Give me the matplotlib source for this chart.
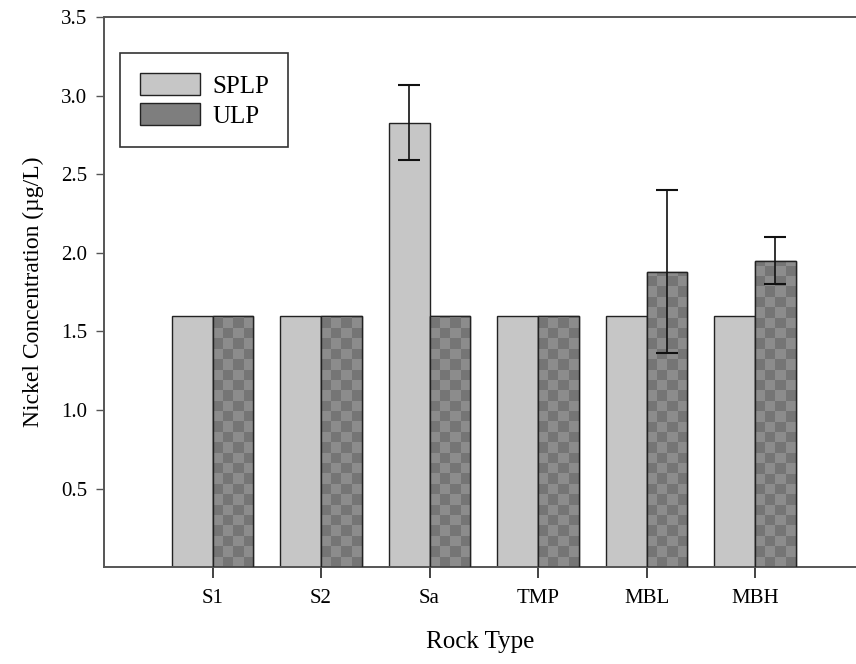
import numpy as np
import matplotlib.pyplot as plt
from matplotlib.legend_handler import HandlerPatch
from matplotlib.patches import Rectangle

rock_types = ['S1', 'S2', 'Sa', 'TMP', 'MBL', 'MBH']
splp = [1.6, 1.6, 2.83, 1.6, 1.6, 1.6]
splp_err = [0, 0, 0.24, 0, 0, 0]
ulp = [1.6, 1.6, 1.6, 1.6, 1.88, 1.95]
ulp_err = [0, 0, 0, 0, 0.52, 0.15]

plt.rcParams['font.family'] = ['Liberation Serif', 'DejaVu Serif']

fig = plt.figure(figsize=(8.56, 6.64), dpi=100)
ax = fig.add_axes([0.1215, 0.146, 0.8785, 0.828])

x = np.arange(len(rock_types))
w = 0.375
edge = '#222222'

b1 = ax.bar(x - w / 2, splp, w, color='#c6c6c6', edgecolor=edge, linewidth=1.0,
            label='SPLP', zorder=2)
b2 = ax.bar(x + w / 2, ulp, w, color='#7e7e7e', edgecolor=edge, linewidth=1.0,
            label='ULP', zorder=2)

# checkerboard fill for the ULP bars
cell_h = 0.066
for bar in b2:
    x0, y0 = bar.get_x(), bar.get_y()
    bw, bh = bar.get_width(), bar.get_height()
    nrow = int(np.ceil(bh / cell_h))
    board = np.add.outer(np.arange(nrow), np.arange(4)) % 2
    shades = np.where(board == 1, 0.46, 0.55)
    im = ax.imshow(shades, cmap='gray', vmin=0, vmax=1, aspect='auto',
                   origin='lower', interpolation='nearest',
                   extent=(x0, x0 + bw, y0, y0 + nrow * cell_h), zorder=2.5)
    im.set_clip_path(bar)
    ax.add_patch(Rectangle((x0, y0), bw, bh, fill=False, edgecolor=edge,
                           linewidth=1.0, zorder=3))

ecfg = dict(fmt='none', ecolor='#111111', elinewidth=1.2, capsize=8,
            capthick=1.5, zorder=4)
for i in range(len(x)):
    if splp_err[i] > 0:
        ax.errorbar(x[i] - w / 2, splp[i], yerr=splp_err[i], **ecfg)
    if ulp_err[i] > 0:
        ax.errorbar(x[i] + w / 2, ulp[i], yerr=ulp_err[i], **ecfg)

ax.set_xlim(-1, 5.93)
ax.set_ylim(0, 3.5)
ax.set_yticks([0.5, 1.0, 1.5, 2.0, 2.5, 3.0, 3.5])
ax.set_yticklabels(['0.5', '1.0', '1.5', '2.0', '2.5', '3.0', '3.5'])
ax.set_xticks(x)
ax.set_xticklabels(rock_types)
ax.tick_params(axis='y', direction='out', length=6, width=1.0, color='#555555',
               labelsize=15, pad=6)
ax.tick_params(axis='x', direction='out', length=8, width=1.2, color='#222222',
               labelsize=15, pad=8)

for side in ['left', 'top', 'bottom']:
    ax.spines[side].set_color('#555555')
    ax.spines[side].set_linewidth(1.4)
ax.spines['right'].set_visible(False)

ax.set_xlabel('Rock Type', fontsize=18, labelpad=16)
ax.set_ylabel('Nickel Concentration (µg/L)', fontsize=17, labelpad=12)


def short_patch(legend, orig_handle, xdescent, ydescent, width, height, fontsize):
    # flatter swatch than the row height
    h = height * 0.66
    return Rectangle((-xdescent, -ydescent + (height - h) / 2), width, h)


leg = ax.legend(loc='upper left', bbox_to_anchor=(0.0213, 0.9345), fontsize=18,
                handlelength=2.4, handleheight=1.0, borderpad=0.78,
                labelspacing=0.22, fancybox=False, framealpha=1,
                handletextpad=0.5, borderaxespad=0,
                handler_map={Rectangle: HandlerPatch(patch_func=short_patch)})
leg.get_frame().set_edgecolor('#333333')
leg.get_frame().set_linewidth(1.2)

fig.savefig('out.png', dpi=100)
